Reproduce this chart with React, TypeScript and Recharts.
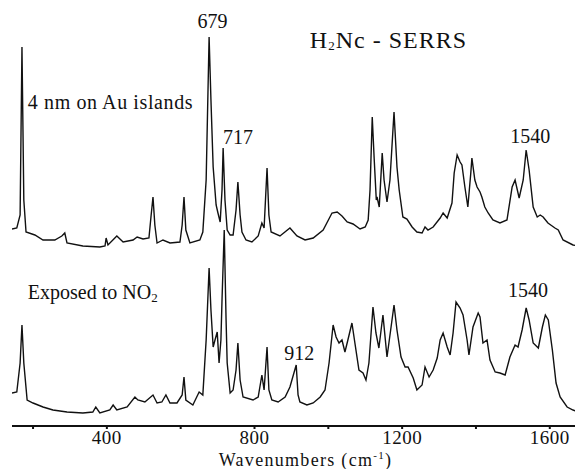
import React from 'react';
import { LineChart, Line, XAxis, YAxis, ReferenceDot } from 'recharts';

// wavenumber (cm-1), intensity (a.u., traces already offset)
const islandsSpectrum: [number, number][] = [
  [143, 197], [156, 198], [165, 211], [170, 379], [175, 226], [181, 194], [205, 191], [227, 186],
  [259, 186], [278, 190], [286, 193], [292, 183], [335, 180], [381, 179], [395, 180], [398, 188],
  [403, 181], [427, 190], [444, 184], [471, 186], [482, 189], [498, 187], [514, 188], [520, 211],
  [525, 229], [530, 201], [536, 183], [552, 186], [571, 183], [598, 184], [604, 201], [609, 229],
  [614, 196], [625, 183], [652, 186], [660, 194], [669, 246], [677, 389], [682, 326], [688, 259],
  [696, 221], [701, 213], [707, 204], [712, 236], [715, 278], [720, 226], [726, 196], [734, 191],
  [742, 191], [750, 216], [755, 244], [761, 211], [766, 194], [777, 186], [793, 184], [810, 190],
  [820, 203], [826, 198], [834, 258], [839, 211], [845, 194], [869, 190], [896, 198], [915, 190],
  [937, 186], [959, 188], [986, 196], [1010, 213], [1024, 214], [1037, 210], [1051, 204], [1067, 202],
  [1086, 197], [1100, 199], [1108, 206], [1113, 236], [1119, 309], [1124, 269], [1130, 226], [1132, 229],
  [1138, 219], [1146, 273], [1151, 246], [1159, 224], [1167, 246], [1178, 314], [1186, 259], [1192, 236],
  [1202, 209], [1213, 207], [1227, 199], [1240, 194], [1254, 193], [1262, 199], [1270, 196], [1284, 199],
  [1303, 208], [1311, 213], [1322, 208], [1335, 223], [1341, 253], [1349, 271], [1357, 264], [1362, 261],
  [1370, 239], [1378, 219], [1386, 253], [1389, 268], [1397, 246], [1403, 239], [1411, 234], [1416, 229],
  [1424, 219], [1433, 213], [1446, 206], [1465, 203], [1484, 206], [1498, 239], [1506, 246], [1517, 228],
  [1528, 246], [1536, 276], [1544, 256], [1555, 219], [1566, 209], [1574, 211], [1582, 209], [1595, 203],
  [1614, 198], [1623, 196], [1636, 186], [1663, 181], [1690, 179],
];

const no2Spectrum: [number, number][] = [
  [143, 33], [156, 34], [165, 63], [170, 101], [175, 63], [184, 26], [200, 23], [227, 19],
  [254, 16], [292, 14], [335, 13], [362, 14], [370, 19], [381, 13], [408, 16], [417, 21],
  [427, 16], [455, 19], [476, 29], [484, 26], [503, 24], [525, 31], [536, 23], [549, 24],
  [560, 31], [571, 23], [590, 23], [604, 31], [609, 49], [614, 26], [633, 21], [650, 34],
  [660, 31], [669, 86], [677, 158], [682, 116], [688, 79], [693, 86], [699, 94], [704, 63],
  [709, 86], [712, 126], [718, 196], [723, 106], [726, 63], [734, 33], [742, 36], [750, 56],
  [755, 83], [761, 46], [769, 29], [796, 26], [810, 29], [820, 51], [826, 36], [834, 79],
  [839, 36], [847, 26], [864, 24], [883, 29], [896, 39], [913, 61], [918, 31], [923, 24],
  [942, 21], [959, 23], [978, 29], [991, 36], [1002, 63], [1013, 101], [1021, 89], [1029, 83],
  [1037, 86], [1045, 74], [1053, 86], [1064, 103], [1072, 83], [1083, 56], [1094, 53], [1102, 46],
  [1110, 63], [1121, 119], [1129, 93], [1137, 78], [1143, 96], [1148, 111], [1159, 69], [1170, 99],
  [1178, 121], [1186, 96], [1197, 69], [1208, 59], [1216, 59], [1230, 48], [1240, 36], [1254, 41],
  [1262, 59], [1273, 49], [1284, 56], [1295, 68], [1303, 86], [1311, 93], [1322, 79], [1330, 71],
  [1338, 93], [1346, 124], [1357, 118], [1365, 111], [1376, 86], [1381, 71], [1392, 99], [1406, 113],
  [1411, 109], [1419, 83], [1430, 86], [1438, 66], [1452, 54], [1465, 53], [1479, 51], [1492, 69],
  [1506, 81], [1514, 79], [1525, 96], [1536, 118], [1544, 106], [1555, 83], [1569, 78], [1580, 99],
  [1588, 111], [1596, 106], [1607, 76], [1617, 43], [1628, 29], [1647, 19], [1663, 16], [1688, 13],
];

const xTicks = [200, 400, 600, 800, 1000, 1200, 1400, 1600];
const labelledTicks = [400, 800, 1200, 1600];

// peak annotations: wavenumber, intensity, text
const annotations: [number, number, string][] = [
  [686, 405, '679'],
  [755, 289, '717'],
  [1547, 290, '1540'],
  [921, 73, '912'],
  [1541, 136, '1540'],
];

const FONT = '"Liberation Serif", "DejaVu Serif", serif';

const toPoints = (arr: [number, number][]) => arr.map(([wn, v]) => ({ wn, v }));

const TextAt = ({ cx, cy, children, anchor = 'start', size = 20, spacing = 0 }: any) => (
  <text x={cx} y={cy} textAnchor={anchor} dominantBaseline="central" fontFamily={FONT} fontSize={size} letterSpacing={spacing} fill="#111">
    {children}
  </text>
);

export default function App() {
  return (
    <LineChart width={575} height={461} margin={{ top: 12, right: 0, bottom: 0, left: 4 }}>
      <XAxis
        type="number"
        dataKey="wn"
        domain={[143, 1690]}
        allowDataOverflow
        ticks={xTicks}
        tickFormatter={(t: number) => (labelledTicks.includes(t) ? String(t) : '')}
        tickSize={3}
        tickMargin={2}
        height={43}
        stroke="#111"
        strokeWidth={2}
        tick={{ fontFamily: FONT, fontSize: 19, letterSpacing: 0.5, fill: '#111' }}
        label={{
          content: ({ viewBox }: any) => (
            <text x={viewBox.x + viewBox.width / 2 + 8} y={viewBox.y + viewBox.height - 3} textAnchor="middle" fontFamily={FONT} fontSize={18} letterSpacing={1.3} fill="#111">
              Wavenumbers (cm<tspan dy={-7} fontSize={11}>-1</tspan><tspan dy={7}>)</tspan>
            </text>
          ),
        }}
      />
      <YAxis hide type="number" domain={[0, 406]} allowDataOverflow />
      <Line data={toPoints(islandsSpectrum)} dataKey="v" type="linear" stroke="#111" strokeWidth={1.4} dot={false} isAnimationActive={false} />
      <Line data={toPoints(no2Spectrum)} dataKey="v" type="linear" stroke="#111" strokeWidth={1.4} dot={false} isAnimationActive={false} />
      {annotations.map(([x, y, t], i) => (
        <ReferenceDot key={i} x={x} y={y} r={0} ifOverflow="visible" shape={(p: any) => <TextAt {...p} anchor="middle">{t}</TextAt>} />
      ))}
      <ReferenceDot x={950} y={386} r={0} ifOverflow="visible" shape={(p: any) => (
        <TextAt {...p} size={24} spacing={1}>H<tspan dy={5} fontSize={13}>2</tspan><tspan dy={-5}>Nc - SERRS</tspan></TextAt>
      )} />
      <ReferenceDot x={186} y={324} r={0} ifOverflow="visible" shape={(p: any) => <TextAt {...p} size={20} spacing={0.6}>4 nm on Au islands</TextAt>} />
      <ReferenceDot x={186} y={134} r={0} ifOverflow="visible" shape={(p: any) => (
        <TextAt {...p} size={20}>Exposed to NO<tspan dy={5} fontSize={13}>2</tspan></TextAt>
      )} />
    </LineChart>
  );
}
